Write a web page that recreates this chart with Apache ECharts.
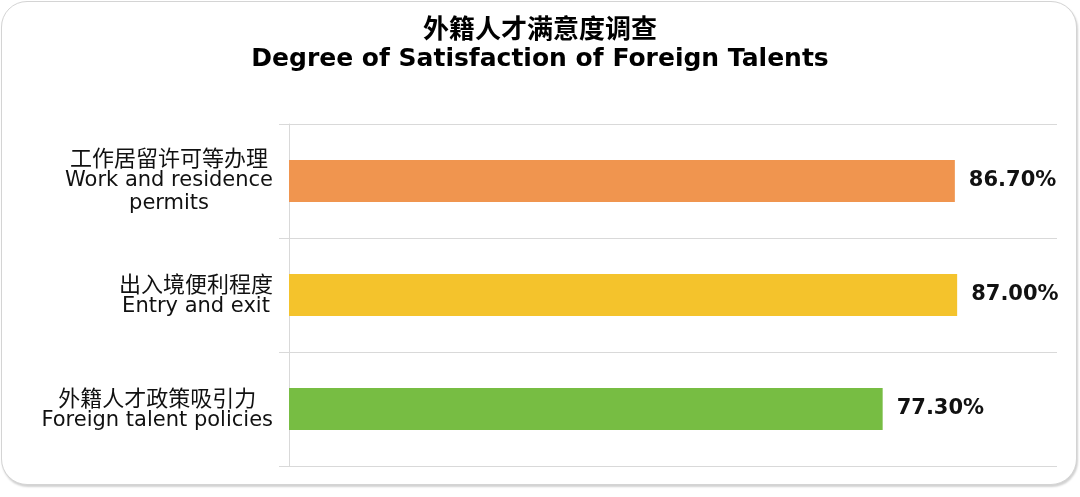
<!DOCTYPE html>
<html>
<head>
<meta charset="utf-8">
<script src="https://cdn.jsdelivr.net/npm/echarts@6/dist/echarts.min.js"></script>
<style>
html,body{margin:0;padding:0;background:#fff;}
#frame{position:absolute;left:1px;top:1px;width:1074px;height:482px;border:1.5px solid #d4d4d4;border-radius:26px;box-shadow:1px 2px 2px rgba(0,0,0,0.18);background:#fff;}
#chart{position:absolute;left:0;top:0;width:1080px;height:497px;}
</style>
</head>
<body>
<div id="frame"></div>
<div id="chart"></div>
<script>
const titleZh = '外籍人才满意度调查';
const titleEn = 'Degree of Satisfaction of Foreign Talents';
const categories = [
  '工作居留许可等办理\nWork and residence\npermits',
  '出入境便利程度\nEntry and exit',
  '外籍人才政策吸引力\nForeign talent policies'
];
const values = [86.7, 87.0, 77.3];
const colors = ['#F0954F', '#F4C32C', '#77BD43'];

const LAT = '"DejaVu Sans", "Noto Sans CJK SC", sans-serif';
const CJK = '"Noto Sans CJK SC", sans-serif';
const isCJK = s => /[\u4e00-\u9fff]/.test(s);
const chart = echarts.init(document.getElementById('chart'), null, {renderer: 'canvas'});
chart.setOption({
  animation: false,
  title: [
    {text: titleZh, left: 'center', top: 10, textStyle: {fontFamily: CJK, fontSize: 26, fontWeight: 'bold', color: '#000'}},
    {text: titleEn, left: 'center', top: 42, textStyle: {fontFamily: LAT, fontSize: 25, fontWeight: 'bold', color: '#000'}}
  ],
  grid: {left: 289, right: 23, top: 124, bottom: 31, containLabel: false},
  xAxis: {
    type: 'value', min: 0, max: 100,
    show: false, splitLine: {show: false}
  },
  yAxis: {
    type: 'category', inverse: true, data: categories,
    axisLine: {show: true, lineStyle: {color: '#d9d9d9', width: 1}},
    axisTick: {show: true, length: 10, lineStyle: {color: '#d9d9d9'}},
    splitLine: {show: true, lineStyle: {color: '#d9d9d9', width: 1}},
    axisLabel: {
      margin: 16, align: 'right',
      color: '#111', fontFamily: LAT, fontSize: 21, lineHeight: 23,
      formatter: v => v.split('\n').map(l => (isCJK(l) ? '{z|' : '{e|') + l + '}').join('\n'),
      rich: {
        z: {align: 'center', fontFamily: CJK, fontSize: 22, lineHeight: 23, color: '#111'},
        e: {align: 'center', fontFamily: LAT, fontSize: 21, lineHeight: 23, color: '#111'}
      }
    }
  },
  series: [{
    type: 'bar',
    data: values.map((v, i) => ({value: v, itemStyle: {color: colors[i]}})),
    barWidth: '37%',
    label: {
      show: true, position: 'right', distance: 14,
      formatter: p => p.value.toFixed(2) + '%',
      fontFamily: LAT, fontSize: 21, fontWeight: 'bold', color: '#111'
    }
  }]
});
</script>
</body>
</html>
